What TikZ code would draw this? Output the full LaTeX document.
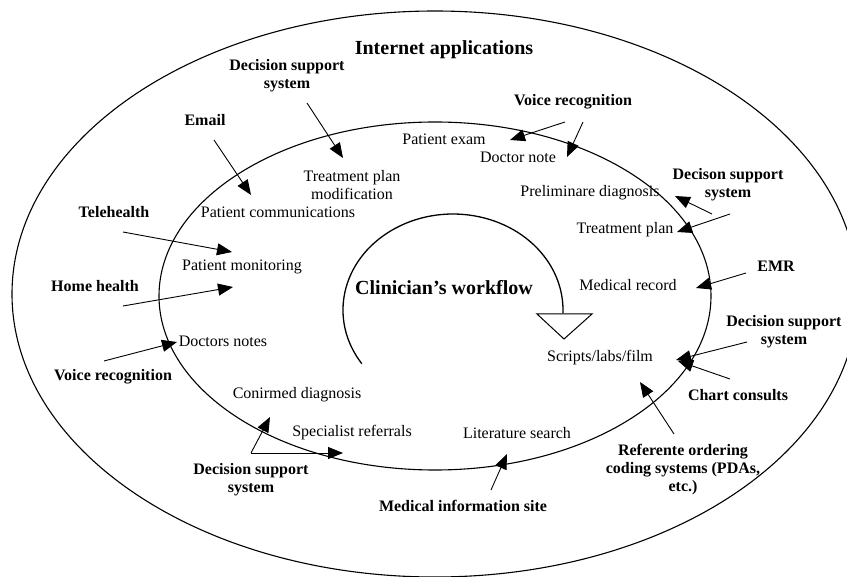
\documentclass[tikz,border=0pt]{standalone}
\usepackage{fontspec}
\setmainfont{Liberation Serif}
\usetikzlibrary{arrows.meta}
\begin{document}
\begin{tikzpicture}[x=1pt,y=-1pt,
  inlabel/.style={font=\fontsize{16}{18}\selectfont, inner sep=0pt, align=center},
  outlabel/.style={font=\fontsize{16}{18}\selectfont\bfseries, inner sep=0pt, align=center},
  biglabel/.style={font=\fontsize{20}{22}\selectfont\bfseries, inner sep=0pt},
  arr/.style={line width=0.9pt, -{Triangle[length=15pt,width=12pt]}},
  ring/.style={line width=1.1pt}]
\useasboundingbox (0,0) rectangle (847,577);
% rings
\draw[ring] (435,294) ellipse [x radius=423pt, y radius=283pt];
\draw[ring] (435,296) ellipse [x radius=276pt, y radius=174pt];
% workflow arc
\coordinate (wfstart) at (361.8,363.7);
\draw[line width=1.3pt] (wfstart) arc[start angle=214, end angle=-2, x radius=110pt, y radius=96pt] coordinate (wfend);
\draw[line width=1pt, fill=white] (537,314) coordinate (triA) -- (592,314) coordinate (triB) -- (564,339) coordinate (triC) -- cycle;
% texts
\node[biglabel] (title) at (444,50) {Internet applications};
\node[biglabel] (wf) at (444,288) {Clinician’s workflow};
\node[outlabel] (dss1) at (287,76) {Decision support\\system};
\node[outlabel] (email) at (205,120) {Email};
\node[outlabel] (vr1) at (573,102) {Voice recognition};
\node[outlabel] (dss2) at (728,185) {Decison support\\system};
\node[outlabel] (tele) at (114,212) {Telehealth};
\node[outlabel] (emr) at (776,266) {EMR};
\node[outlabel] (home) at (95,286) {Home health};
\node[outlabel] (dss3) at (784,332) {Decision support\\system};
\node[outlabel] (vr2) at (113,377) {Voice recognition};
\node[outlabel] (chart) at (738,395) {Chart consults};
\node[outlabel] (refer) at (683,470) {Referente ordering\\coding systems (PDAs,\\etc.)};
\node[outlabel] (dss4) at (251,480) {Decision support\\system};
\node[outlabel] (medinfo) at (463,506) {Medical information site};
\node[inlabel] (exam) at (444,139) {Patient exam};
\node[inlabel] (dnote) at (518,157) {Doctor note};
\node[inlabel] (tpm) at (352,185) {Treatment plan\\modification};
\node[inlabel] (prelim) at (590,193) {Preliminare diagnosis};
\node[inlabel] (pcomm) at (278,212) {Patient communications};
\node[inlabel] (tplan) at (625,230) {Treatment plan};
\node[inlabel] (pmon) at (242,267) {Patient monitoring};
\node[inlabel] (mrec) at (628,285) {Medical record};
\node[inlabel] (dnotes) at (223,341) {Doctors notes};
\node[inlabel] (scripts) at (600,358) {Scripts/labs/film};
\node[inlabel] (confirm) at (297,395) {Conirmed diagnosis};
\node[inlabel] (spec) at (352,433) {Specialist referrals};
\node[inlabel] (lit) at (517,433) {Literature search};
% arrow end points
\coordinate (a1s) at (307,103); \coordinate (a1e) at (343,158);
\coordinate (a2s) at (214,140); \coordinate (a2e) at (251,195);
\coordinate (a3s) at (123,232); \coordinate (a3e) at (232,252);
\coordinate (a4s) at (123,306); \coordinate (a4e) at (233,287);
\coordinate (a5s) at (104,361); \coordinate (a5e) at (177,342);
\coordinate (a6s) at (565,122); \coordinate (a6e) at (510,140);
\coordinate (a7s) at (583,122); \coordinate (a7e) at (567,157);
\coordinate (a8s) at (712,214); \coordinate (a8e) at (675,196);
\coordinate (a9s) at (730,214); \coordinate (a9e) at (677,232);
\coordinate (a10s) at (746,273); \coordinate (a10e) at (696,288);
\coordinate (a11s) at (747,342); \coordinate (a11e) at (676,360);
\coordinate (a12s) at (730,379); \coordinate (a12e) at (678,361);
\coordinate (a13s) at (674,434); \coordinate (a13e) at (640,382);
\coordinate (a14s) at (251,453); \coordinate (a14e) at (270,417); \coordinate (a14f) at (343,453);
\coordinate (a15s) at (491,490); \coordinate (a15e) at (507,454);
\foreach \i in {1,...,13,15} {\draw[arr] (a\i s) -- (a\i e);}
\draw[arr] (a14s) -- (a14e);
\draw[arr] (a14s) -- (a14f);
\end{tikzpicture}
\end{document}
